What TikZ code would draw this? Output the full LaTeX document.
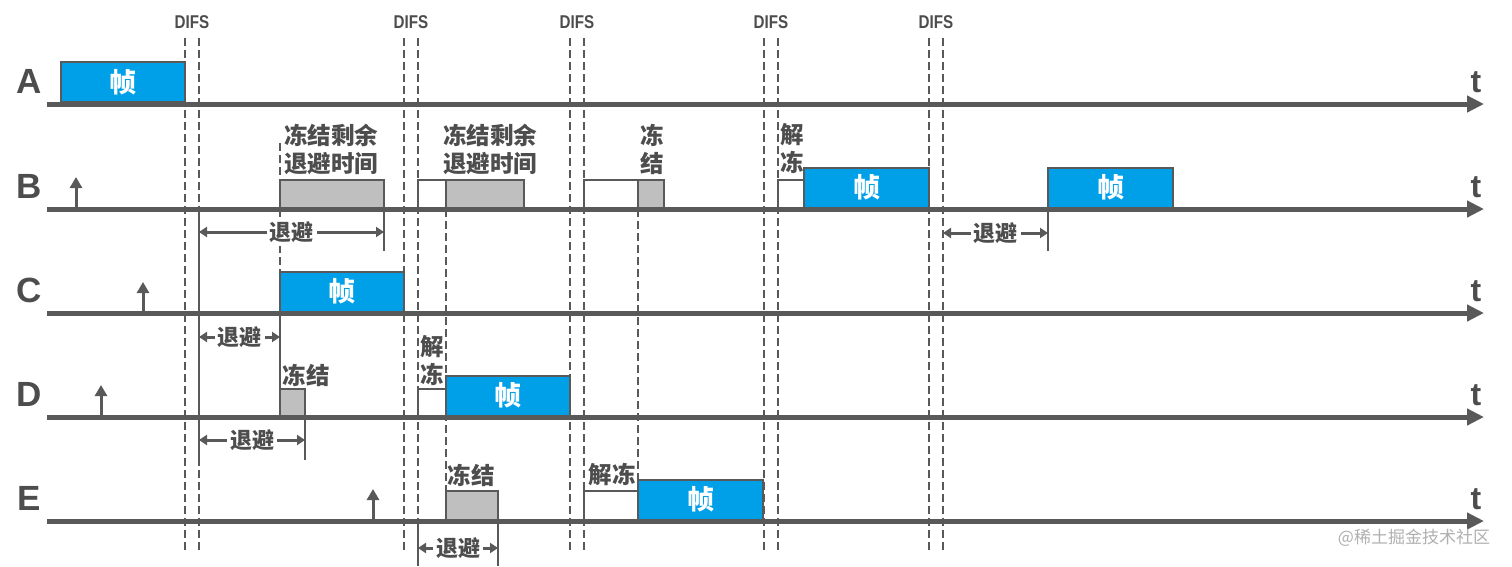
\documentclass[tikz,border=0pt]{standalone}
\usepackage{fontspec}
\setmainfont{Liberation Sans}
\newfontfamily\cjk{Noto Sans CJK SC}
\newfontfamily\narrowsf[FakeStretch=0.82]{Liberation Sans}
\usetikzlibrary{arrows.meta}
\definecolor{axisgray}{HTML}{595959}
\definecolor{txtgray}{HTML}{4D4D4D}
\definecolor{frameblue}{HTML}{00A0E9}
\definecolor{boxgray}{HTML}{BFBFBF}
\definecolor{wmgray}{HTML}{B0B0B0}
\begin{document}
\begin{tikzpicture}[x=1pt,y=-1pt,
  axisline/.style={line width=5pt, draw=axisgray, -{Triangle[length=17pt,width=16pt]}},
  rowlabel/.style={font=\fontsize{35}{35}\selectfont\bfseries, text=txtgray, inner sep=0},
  tlabel/.style={font=\fontsize{32}{32}\selectfont\bfseries, text=txtgray, inner sep=0},
  difs/.style={font=\narrowsf\bfseries\fontsize{18.5}{18.5}\selectfont, text=txtgray, inner sep=0},
  difsline/.style={draw=axisgray, line width=1.7pt, dash pattern=on 8pt off 4pt},
  frame/.style={draw=axisgray, line width=2pt, fill=frameblue, text=white, inner sep=0, outer sep=0, anchor=south west, minimum height=40pt, font=\cjk\bfseries\fontsize{27}{27}\selectfont},
  gbox/.style={draw=axisgray, line width=2pt, fill=boxgray, inner sep=0, outer sep=0, anchor=south west, minimum height=28pt},
  wbox/.style={draw=axisgray, line width=2pt, fill=white, inner sep=0, outer sep=0, anchor=south west, minimum height=28pt},
  lbl/.style={font=\cjk\bfseries\fontsize{23.5}{28}\selectfont, text=txtgray, inner sep=0, align=center},
  bklbl/.style={font=\cjk\bfseries\fontsize{22}{22}\selectfont, text=txtgray, fill=white, inner sep=3pt},
  bkarrow/.style={draw=axisgray, line width=3pt, {Triangle[length=8pt,width=10pt]}-{Triangle[length=8pt,width=10pt]}},
  tickline/.style={draw=axisgray, line width=2pt},
  uparrow/.style={draw=axisgray, line width=3pt, -{Triangle[length=11pt,width=12pt]}},
]
\fill[white] (0,0) rectangle (1512,566);
\useasboundingbox (0,0) rectangle (1512,566);

% DIFS dashed lines and labels
\foreach \x in {185,199,404,418,570,584,764,778,929,943}
  \draw[difsline] (\x,38) -- (\x,553);
\node[difs] (d1) at (192,22) {DIFS};
\node[difs] (d2) at (411,22) {DIFS};
\node[difs] (d3) at (577,22) {DIFS};
\node[difs] (d4) at (771,22) {DIFS};
\node[difs] (d5) at (936,22) {DIFS};

% extra dashed verticals
\draw[difsline] (280,143) -- (280,180);
\draw[difsline] (280,209) -- (280,271);
\draw[difsline] (446,209) -- (446,491);
\draw[difsline] (638,209) -- (638,481);

% solid ticks
\draw[tickline] (199,209) -- (199,460);
\draw[tickline] (384,209) -- (384,251);
\draw[tickline] (1048,209) -- (1048,251);
\draw[tickline] (280,313) -- (280,389);
\draw[tickline] (305,417) -- (305,460);
\draw[tickline] (418,521) -- (418,566);
\draw[tickline] (498,521) -- (498,566);

% row labels and t
\node[rowlabel] (lA) at (29,81) {A};
\node[rowlabel] (lB) at (29,186) {B};
\node[rowlabel] (lC) at (29,290) {C};
\node[rowlabel] (lD) at (29,394) {D};
\node[rowlabel] (lE) at (29,498) {E};
\node[tlabel] (tA) at (1476,82) {t};
\node[tlabel] (tB) at (1476,187) {t};
\node[tlabel] (tC) at (1476,291) {t};
\node[tlabel] (tD) at (1476,395) {t};
\node[tlabel] (tE) at (1476,499) {t};

% Row A
\node[frame, minimum width=124pt] (fA) at (61,102) {帧};

% Row B
\node[gbox, minimum width=104pt] (gB1) at (280,207.5) {};
\node[wbox, minimum width=28pt] (wB2) at (418,207.5) {};
\node[gbox, minimum width=78pt] (gB2) at (446,207.5) {};
\node[wbox, minimum width=54pt] (wB3) at (584,207.5) {};
\node[gbox, minimum width=26pt] (gB3) at (638,207.5) {};
\node[wbox, minimum width=26pt] (wB4) at (778,207.5) {};
\node[frame, minimum width=125pt] (fB1) at (804,207.5) {帧};
\node[frame, minimum width=125pt] (fB2) at (1048,207.5) {帧};
\node[lbl] (tB1) at (331,149) {冻结剩余\\退避时间};
\node[lbl] (tB2) at (490,149) {冻结剩余\\退避时间};
\node[lbl] (tB3) at (652,149) {冻\\结};
\node[lbl] (tB4) at (792,149) {解\\冻};
\coordinate (uB0) at (76,208);
\coordinate (uB1) at (76,177);
\draw[uparrow] (uB0) -- (uB1);
\coordinate (bkB1l) at (199,232);
\coordinate (bkB1r) at (384,232);
\draw[bkarrow] (bkB1l) -- (bkB1r) node[bklbl, midway] (bkB1t) {退避};
\coordinate (bkB2l) at (943,233);
\coordinate (bkB2r) at (1048,233);
\draw[bkarrow] (bkB2l) -- (bkB2r) node[bklbl, midway] (bkB2t) {退避};

% Row C
\node[frame, minimum width=124pt] (fC) at (280,311.5) {帧};
\coordinate (uC0) at (143,312);
\coordinate (uC1) at (143,282);
\draw[uparrow] (uC0) -- (uC1);
\coordinate (bkCl) at (199,337);
\coordinate (bkCr) at (280,337);
\draw[bkarrow] (bkCl) -- (bkCr) node[bklbl, midway] (bkCt) {退避};

% Row D
\node[gbox, minimum width=25pt, minimum height=27pt] (gD) at (280,415.5) {};
\node[wbox, minimum width=28pt, minimum height=27pt] (wD) at (418,415.5) {};
\node[frame, minimum width=124pt] (fD) at (446,415.5) {帧};
\node[lbl] (tD1) at (306,375) {冻结};
\node[lbl] (tD2) at (432,361) {解\\冻};
\coordinate (uD0) at (101,416);
\coordinate (uD1) at (101,385);
\draw[uparrow] (uD0) -- (uD1);
\coordinate (bkDl) at (199,440);
\coordinate (bkDr) at (305,440);
\draw[bkarrow] (bkDl) -- (bkDr) node[bklbl, midway] (bkDt) {退避};

% Row E
\node[gbox, minimum width=52pt, minimum height=29pt] (gE) at (446,519.5) {};
\node[wbox, minimum width=54pt, minimum height=29pt] (wE) at (584,519.5) {};
\node[frame, minimum width=125pt] (fE) at (638,519.5) {帧};
\node[lbl] (tE1) at (471,475) {冻结};
\node[lbl] (tE2) at (612,475) {解冻};
\coordinate (uE0) at (373,520);
\coordinate (uE1) at (373,489);
\draw[uparrow] (uE0) -- (uE1);
\coordinate (bkEl) at (418,548);
\coordinate (bkEr) at (498,548);
\draw[bkarrow] (bkEl) -- (bkEr) node[bklbl, midway] (bkEt) {退避};

% time axes
\foreach \n/\y in {A/104,B/209,C/313,D/417,E/521}{
  \coordinate (ax\n s) at (47,\y);
  \coordinate (ax\n e) at (1484,\y);
  \draw[axisline] (ax\n s) -- (ax\n e);
}

% watermark
\node[font=\cjk\fontsize{17}{17}\selectfont, text=wmgray, inner sep=0] (wm) at (1414,538) {@稀土掘金技术社区};
\end{tikzpicture}
\end{document}
